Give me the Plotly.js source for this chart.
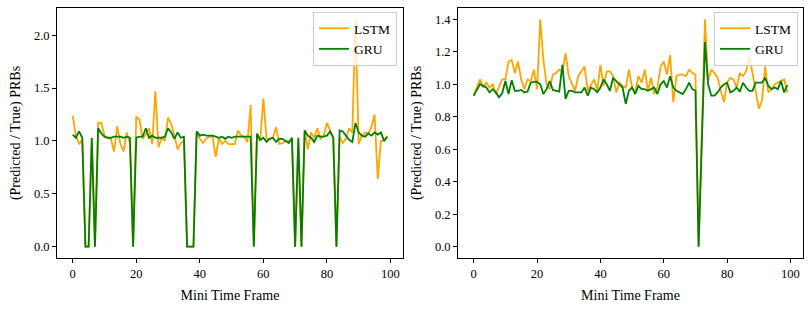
<!DOCTYPE html>
<html>
<head>
<meta charset="utf-8">
<script src="https://cdn.plot.ly/plotly-3.0.1.min.js"></script>
<style>html,body{margin:0;padding:0;background:#fff;}#chart{width:811px;height:311px;}</style>
</head>
<body>
<div id="chart"></div>
<script>
// Mini time frame index 0..99
const frames = Array.from({length: 100}, (_, i) => i);

// Left panel
const lstmLeft = [
1.24,1.05,0.97,1.01,0,0,1.00,0,1.17,1.17,
1.05,1.03,1.02,0.90,1.14,0.97,0.90,1.08,0.98,0,
1.23,1.20,1.02,1.06,1.12,0.97,1.47,0.94,1.03,1.00,
1.22,1.16,1.05,0.92,0.98,1.00,0,0,0,1.08,
1.02,0.98,1.02,1.04,1.04,0.85,1.03,0.97,1.00,0.97,
0.97,0.97,1.10,1.05,1.04,0.99,1.34,0,1.06,1.00,
1.40,1.02,1.02,1.03,1.13,0.97,0.98,1.00,1.00,1.00,
0,1.00,0,1.10,0.92,1.08,1.03,1.12,1.02,1.05,
1.17,1.09,1.03,0,1.04,0.98,1.02,1.12,1.08,2.15,
0.97,1.05,1.08,1.07,1.13,1.25,0.64,1.00,1.00,1.05
];
const gruLeft = [
1.06,1.03,1.09,1.03,0,0,1.03,0,1.12,1.07,
1.04,1.03,1.03,1.04,1.04,1.04,1.03,1.04,1.03,0,
1.03,1.04,1.04,1.12,1.03,1.05,1.03,1.03,1.03,1.04,
1.12,1.08,1.02,1.08,1.03,1.04,0,0,0,1.09,
1.05,1.06,1.05,1.05,1.05,1.04,1.03,1.04,1.02,1.04,
1.03,1.04,1.04,1.04,1.04,1.04,1.04,0,1.07,1.01,
1.03,0.99,1.02,1.03,0.99,1.02,1.02,1.00,0.98,1.03,
0,1.03,0,1.10,1.05,1.03,0.99,1.05,1.04,1.04,
1.05,1.09,1.03,0,1.10,1.09,1.05,1.01,0.99,1.17,
1.08,1.05,1.04,1.07,1.05,1.08,1.06,1.08,1.00,1.04
];

// Right panel
const lstmRight = [
0.93,0.98,1.03,0.98,1.01,0.98,1.00,0.94,0.99,1.03,
1.03,1.14,1.15,1.07,1.14,1.03,0.97,1.03,1.02,1.09,
0.97,1.40,1.15,1.00,0.97,1.06,1.07,1.09,1.08,1.19,
1.05,1.00,0.96,1.05,1.08,1.11,0.96,1.00,1.03,0.96,
1.12,0.99,1.08,1.08,1.05,0.95,1.01,0.99,0.98,1.09,
0.98,0.95,1.05,1.01,1.09,0.96,1.04,0.94,0.98,1.11,
1.14,1.06,1.18,0.89,1.05,1.06,1.06,1.05,1.09,1.07,
1.06,0,0.70,1.40,1.02,1.09,1.07,1.04,0.96,0.89,
1.01,1.04,1.03,0.98,1.07,1.05,1.08,1.17,1.07,0.97,
0.85,0.90,1.11,0.95,0.97,1.00,1.01,1.02,1.03,0.95
];
const gruRight = [
0.93,0.97,1.00,0.99,0.98,0.95,0.97,0.95,0.92,0.945,
1.02,0.94,1.025,0.96,0.96,0.965,0.95,0.955,1.01,1.015,
1.015,1.00,0.94,0.97,1.02,0.965,0.96,0.955,1.12,0.91,
0.96,0.96,0.95,0.95,0.95,0.98,0.93,0.98,0.97,0.95,
0.98,1.03,1.00,0.96,1.04,1.02,1.00,0.98,0.88,0.96,
0.98,0.94,0.99,0.97,0.97,0.96,0.97,0.98,0.94,1.00,
1.02,0.98,1.05,0.98,0.96,0.95,0.94,0.97,1.01,0.97,
0.96,0,0.63,1.26,1.00,0.93,0.93,0.95,0.98,1.00,
1.01,0.95,0.96,0.98,0.955,1.01,0.98,0.96,0.96,1.01,
1.01,1.01,1.04,0.99,0.97,0.98,0.97,1.02,0.95,0.995
];

const serif = 'Liberation Serif, Times New Roman, serif';
const ORANGE = '#FFA500', GREEN = '#008000';

const traces = [
  {x: frames, y: lstmLeft, name: 'LSTM', mode: 'lines', line: {color: ORANGE, width: 1.8}, xaxis: 'x', yaxis: 'y', legend: 'legend'},
  {x: frames, y: gruLeft, name: 'GRU', mode: 'lines', line: {color: GREEN, width: 1.8}, xaxis: 'x', yaxis: 'y', legend: 'legend'},
  {x: frames, y: lstmRight, name: 'LSTM', mode: 'lines', line: {color: ORANGE, width: 1.8}, xaxis: 'x2', yaxis: 'y2', legend: 'legend2'},
  {x: frames, y: gruRight, name: 'GRU', mode: 'lines', line: {color: GREEN, width: 1.8}, xaxis: 'x2', yaxis: 'y2', legend: 'legend2'}
];

const axBase = {
  showline: true, mirror: true, linecolor: 'black', linewidth: 1,
  ticks: 'outside', ticklen: 4, tickcolor: 'black', tickwidth: 1,
  showgrid: false, zeroline: false,
  tickfont: {family: serif, size: 12.5, color: 'black'}
};
const yDom = [53/311, 303/311];
const titleFont = {family: serif, size: 14, color: 'black'};

const legBase = {
  bgcolor: 'rgba(255,255,255,0.8)', bordercolor: '#cccccc', borderwidth: 1,
  font: {family: serif, size: 13.5, color: 'black'},
  xanchor: 'right', yanchor: 'top', tracegroupgap: 0, itemwidth: 30
};

const layout = {
  width: 811, height: 311,
  margin: {l: 0, r: 0, t: 0, b: 0},
  paper_bgcolor: 'white', plot_bgcolor: 'white',
  showlegend: true,
  xaxis: Object.assign({}, axBase, {domain: [57/811, 403/811], range: [-4.95, 103.95], dtick: 20, tick0: 0,
    title: {text: 'Mini Time Frame', font: titleFont, standoff: 10}}),
  yaxis: Object.assign({}, axBase, {domain: yDom, range: [-0.1075, 2.2575], dtick: 0.5, tick0: 0, tickformat: '.1f',
    title: {text: '(Predicted / True) PRBs', font: titleFont, standoff: 9}}),
  xaxis2: Object.assign({}, axBase, {anchor: 'y2', domain: [458/811, 803/811], range: [-4.95, 103.95], dtick: 20, tick0: 0,
    title: {text: 'Mini Time Frame', font: titleFont, standoff: 10}}),
  yaxis2: Object.assign({}, axBase, {anchor: 'x2', domain: yDom, range: [-0.07, 1.47], dtick: 0.2, tick0: 0, tickformat: '.1f',
    title: {text: '(Predicted / True) PRBs', font: titleFont, standoff: 9}}),
  legend: Object.assign({}, legBase, {x: 397/811, y: 1 - 12/311}),
  legend2: Object.assign({}, legBase, {x: 798/811, y: 1 - 12/311})
};

Plotly.newPlot('chart', traces, layout, {staticPlot: true, displayModeBar: false});
</script>
</body>
</html>
